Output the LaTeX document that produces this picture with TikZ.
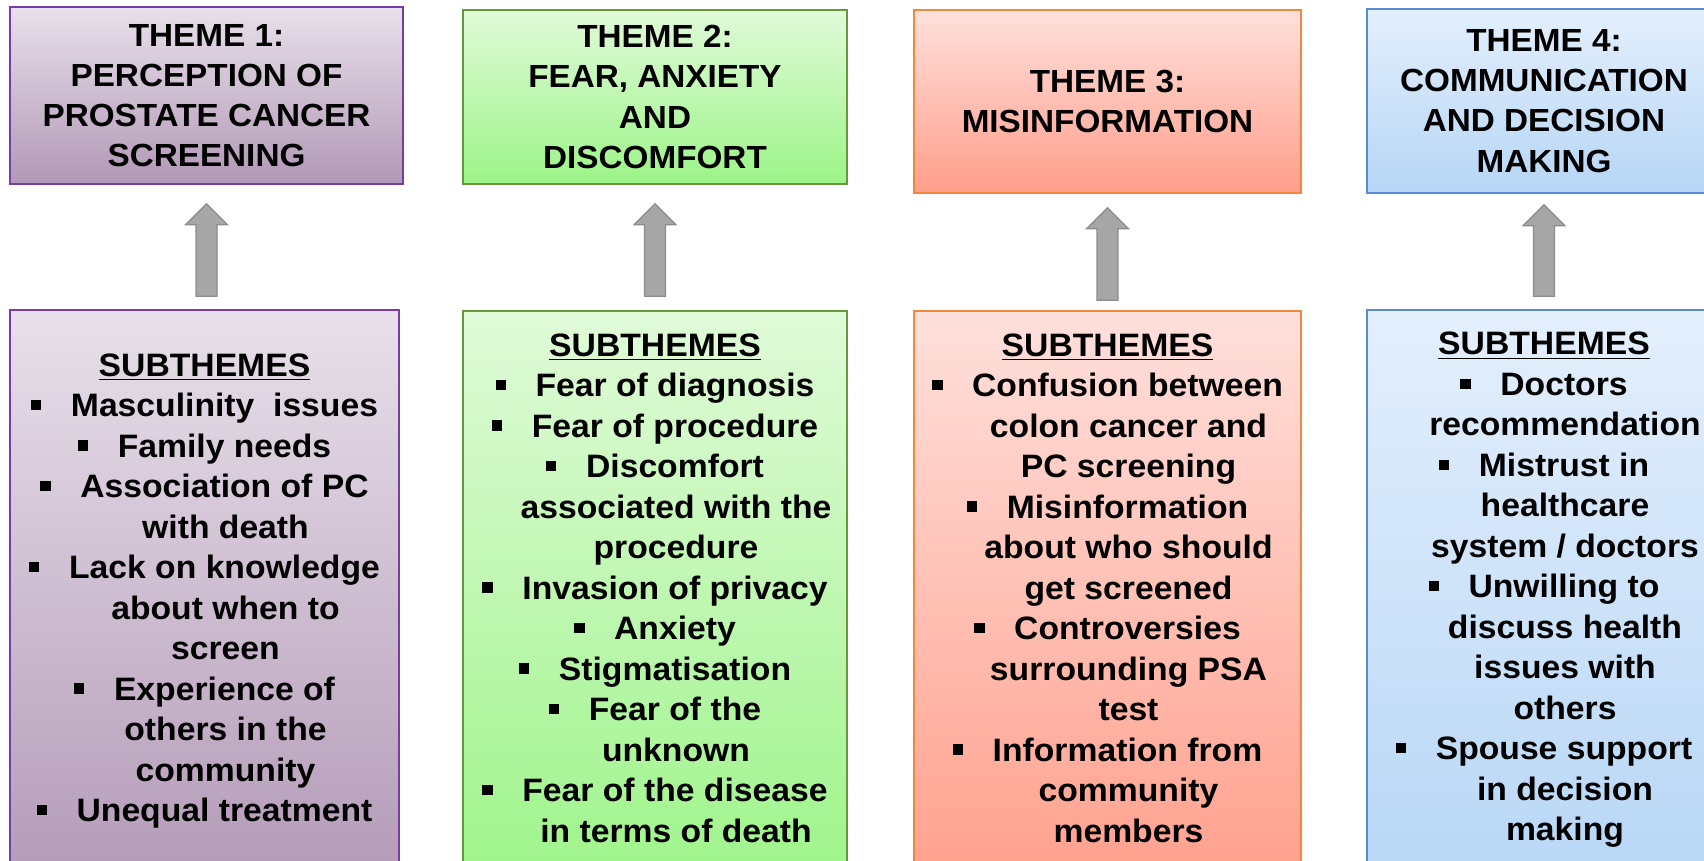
\documentclass[tikz,border=0pt]{standalone}
\usepackage{fontspec}
\newfontfamily\slidefont{Liberation Sans}[FakeStretch=1.04]
\usetikzlibrary{calc}

\definecolor{purtop}{RGB}{232,224,234}
\definecolor{purbot}{RGB}{178,152,182}
\definecolor{purline}{RGB}{120,60,170}
\definecolor{grntop}{RGB}{224,250,216}
\definecolor{grnbot}{RGB}{156,244,136}
\definecolor{grnline}{RGB}{106,150,60}
\definecolor{redtop}{RGB}{255,224,220}
\definecolor{redbot}{RGB}{255,158,138}
\definecolor{redline}{RGB}{242,136,60}
\definecolor{blutop}{RGB}{228,239,252}
\definecolor{blubot}{RGB}{182,214,246}
\definecolor{bluline}{RGB}{90,138,214}
\definecolor{arrowgrey}{RGB}{166,166,166}
\definecolor{arrowedge}{RGB}{140,140,140}

\newcommand{\sbul}{\makebox[20pt][l]{\rule[3.2pt]{5.2pt}{5.2pt}}}
\newcommand{\sind}{\hspace*{21pt}}

\begin{document}
\begin{tikzpicture}[x=0.5pt, y=-0.5pt, text=black,
  theme/.style={draw, line width=0.8pt, align=center, inner sep=0pt,
    font=\slidefont\bfseries\fontsize{16}{20.1}\selectfont},
  subbox/.style={draw, line width=0.8pt, inner sep=0pt},
  subtext/.style={align=center, inner sep=0pt,
    font=\slidefont\bfseries\fontsize{16.2}{20.25}\selectfont},
  blockarrow/.style={draw=arrowedge, fill=arrowgrey, line width=0.6pt}]
\useasboundingbox (0,0) rectangle (1704,861);
\clip (0,0) rectangle (1704,861);

% themes
\node (t1) [theme, top color=purtop, bottom color=purbot, draw=purline,
    minimum width=196.5pt, minimum height=88.5pt] at (206.5,95.5)
    {THEME 1:\\PERCEPTION OF\\PROSTATE CANCER\\SCREENING};
\node (t2) [theme, top color=grntop, bottom color=grnbot, draw=grnline,
    minimum width=192pt, minimum height=87pt] at (655,97)
    {THEME 2:\\FEAR, ANXIETY\\AND\\DISCOMFORT};
\node (t3) [theme, top color=redtop, bottom color=redbot, draw=redline,
    minimum width=193.5pt, minimum height=91.5pt] at (1107.5,101.5)
    {THEME 3:\\MISINFORMATION};
\node (t4) [theme, top color=blutop, bottom color=blubot, draw=bluline,
    minimum width=177pt, minimum height=92pt] at (1544,101)
    {THEME 4:\\COMMUNICATION\\AND DECISION\\MAKING};

% subtheme boxes
\node (s1) [subbox, top color=purtop, bottom color=purbot, draw=purline,
    minimum width=194.5pt, minimum height=295pt] at (204.5,605) {};
\node (s2) [subbox, top color=grntop, bottom color=grnbot, draw=grnline,
    minimum width=192pt, minimum height=294.5pt] at (655,605.5) {};
\node (s3) [subbox, top color=redtop, bottom color=redbot, draw=redline,
    minimum width=193.5pt, minimum height=294.5pt] at (1107.5,605.5) {};
\node (s4) [subbox, top color=blutop, bottom color=blubot, draw=bluline,
    minimum width=177pt, minimum height=295pt] at (1544,605) {};

\node (l1) [subtext] at (204.5,591)
    {\underline{SUBTHEMES}\\
     \sbul Masculinity~~issues\\
     \sbul Family needs\\
     \sbul Association of PC\\
     \sind with death\\
     \sbul Lack on knowledge\\
     \sind about when to\\
     \sind screen\\
     \sbul Experience of\\
     \sind others in the\\
     \sind community\\
     \sbul Unequal treatment};
\node (l2) [subtext] at (655,588)
    {\underline{SUBTHEMES}\\
     \sbul Fear of diagnosis\\
     \sbul Fear of procedure\\
     \sbul Discomfort\\
     \sind associated with the\\
     \sind procedure\\
     \sbul Invasion of privacy\\
     \sbul Anxiety\\
     \sbul Stigmatisation\\
     \sbul Fear of the\\
     \sind unknown\\
     \sbul Fear of the disease\\
     \sind in terms of death};
\node (l3) [subtext] at (1107.5,588)
    {\underline{SUBTHEMES}\\
     \sbul Confusion between\\
     \sind colon cancer and\\
     \sind PC screening\\
     \sbul Misinformation\\
     \sind about who should\\
     \sind get screened\\
     \sbul Controversies\\
     \sind surrounding PSA\\
     \sind test\\
     \sbul Information from\\
     \sind community\\
     \sind members};
\node (l4) [subtext] at (1544,590)
    {\underline{SUBTHEMES}\\
     \sbul Doctors\\
     \sind recommendation\\
     \sbul Mistrust in\\
     \sind healthcare\\
     \sind system / doctors\\
     \sbul Unwilling to\\
     \sind discuss health\\
     \sind issues with\\
     \sind others\\
     \sbul Spouse support\\
     \sind in decision\\
     \sind making};

% block arrows, subthemes up to themes
\foreach \i/\g/\h in {1/13/19, 2/14/19, 3/10/14, 4/13/11}
  \draw[blockarrow] ($(t\i.south |- s\i.north)+(-10.5,-\g)$)
    -- ($(t\i.south)+(-10.5,\h+21)$) -- ++(-10.5,0)
    -- ($(t\i.south)+(0,\h)$)
    -- ($(t\i.south)+(21,\h+21)$) -- ++(-10.5,0)
    -- ($(t\i.south |- s\i.north)+(10.5,-\g)$) -- cycle;

\end{tikzpicture}
\end{document}
